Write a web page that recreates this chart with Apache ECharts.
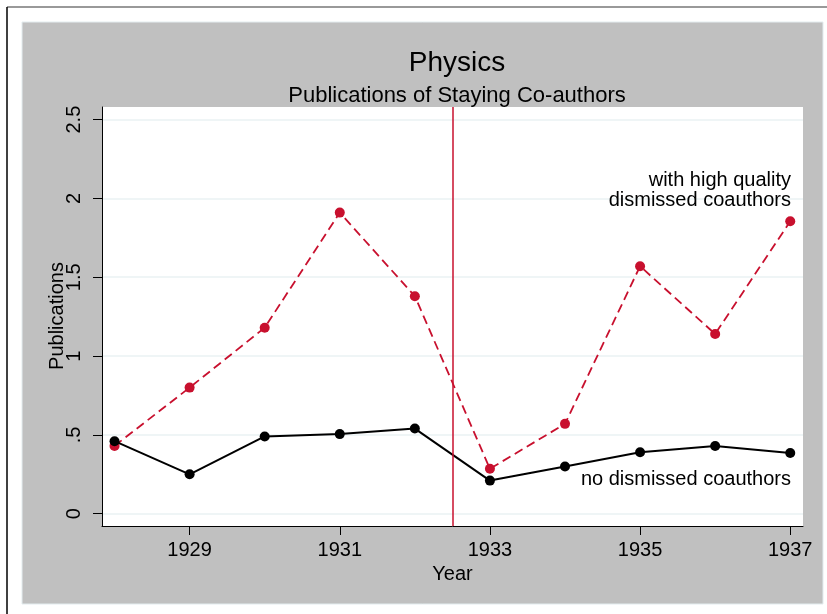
<!DOCTYPE html>
<html>
<head>
<meta charset="utf-8">
<script src="https://cdn.jsdelivr.net/npm/echarts@6/dist/echarts.min.js"></script>
<style>
  html, body { margin: 0; padding: 0; background: #fff; }
  #chart { width: 827px; height: 614px; }
</style>
</head>
<body>
<div id="chart"></div>
<script>
// data
const years = [1928, 1929, 1930, 1931, 1932, 1933, 1934, 1935, 1936, 1937]
const highQuality = [0.43, 0.80, 1.18, 1.91, 1.38, 0.285, 0.57, 1.57, 1.14, 1.855]
const noDismissed = [0.46, 0.25, 0.49, 0.505, 0.54, 0.21, 0.30, 0.39, 0.43, 0.385]
const xTicks = [1929, 1931, 1933, 1935, 1937]
const yTicks = [0, 0.5, 1, 1.5, 2, 2.5]
const cutoffYear = 1932.5

const red = '#c8102e'
const font = "'Liberation Sans', Arial, sans-serif"

const chart = echarts.init(document.getElementById('chart'), null, { renderer: 'canvas' })

const fmtY = v => {
  const s = String(v)
  return s.startsWith('0.') ? s.slice(1) : s
}

const option = {
  backgroundColor: '#fff',
  animation: false,
  textStyle: { fontFamily: font },
  title: [{
    text: 'Physics',
    left: 452,
    top: 44,
    textAlign: 'center',
    textStyle: { fontSize: 28, fontWeight: 'normal', color: '#000', fontFamily: font }
  }, {
    text: 'Publications of Staying Co-authors',
    left: 452,
    top: 80,
    textAlign: 'center',
    textStyle: { fontSize: 22, fontWeight: 'normal', color: '#000', fontFamily: font }
  }],
  graphic: [
    { type: 'rect', z: -100, shape: { x: 22, y: 22, width: 801, height: 582 },
      style: { fill: '#c0c0c0', stroke: '#e3ecef', lineWidth: 1 } },
    { type: 'line', z: -90, shape: { x1: 7, y1: 7, x2: 827, y2: 7 },
      style: { stroke: '#777', lineWidth: 1.5 } },
    { type: 'line', z: -90, shape: { x1: 7, y1: 7, x2: 7, y2: 614 },
      style: { stroke: '#000', lineWidth: 1.5 } },
    // y axis title, placed by hand so it sits as close to the labels as in the original
    { type: 'text', x: 57, y: 316, rotation: Math.PI / 2, z: 10,
      style: { text: 'Publications', fontSize: 20, fontFamily: font, fill: '#000',
        align: 'center', verticalAlign: 'middle' } },
    { type: 'text', x: 791, y: 180, z: 10,
      style: { text: 'with high quality', fontSize: 20, fontFamily: font, fill: '#000',
        align: 'right', verticalAlign: 'middle' } },
    { type: 'text', x: 791, y: 200, z: 10,
      style: { text: 'dismissed coauthors', fontSize: 20, fontFamily: font, fill: '#000',
        align: 'right', verticalAlign: 'middle' } },
    { type: 'text', x: 791, y: 479, z: 10,
      style: { text: 'no dismissed coauthors', fontSize: 20, fontFamily: font, fill: '#000',
        align: 'right', verticalAlign: 'middle' } }
  ],
  grid: {
    left: 102, right: 24, top: 107, bottom: 88,
    show: true, backgroundColor: '#fff', borderWidth: 0
  },
  xAxis: {
    type: 'value',
    min: 1927.833, max: 1937.17,
    name: 'Year',
    nameLocation: 'middle',
    nameGap: 36,
    nameTextStyle: { fontSize: 20, color: '#000', fontFamily: font },
    axisLine: { show: true, onZero: false, lineStyle: { color: '#000', width: 1 } },
    axisTick: { show: true, length: 9, customValues: xTicks, lineStyle: { color: '#000' } },
    axisLabel: { customValues: xTicks, fontSize: 20, color: '#000', margin: 14,
      formatter: v => String(v) },
    splitLine: { show: false }
  },
  yAxis: {
    type: 'value',
    min: -0.078, max: 2.58,
    axisLine: { show: true, onZero: false, lineStyle: { color: '#000', width: 1 } },
    axisTick: { show: true, length: 9, customValues: yTicks, lineStyle: { color: '#000' } },
    axisLabel: { customValues: yTicks, rotate: 90, fontSize: 20, color: '#000', margin: 18,
      formatter: fmtY },
    splitLine: { show: true, lineStyle: { color: '#eaf2f3', width: 1.5 } }
  },
  series: [{
    name: 'with high quality dismissed coauthors',
    type: 'line',
    data: years.map((y, i) => [y, highQuality[i]]),
    symbol: 'circle',
    symbolSize: 10,
    itemStyle: { color: red },
    lineStyle: { color: red, width: 1.8, type: [9, 5] },
    z: 3,
    markLine: {
      silent: true,
      symbol: 'none',
      label: { show: false },
      lineStyle: { color: red, width: 1.5, type: 'solid' },
      data: [{ xAxis: cutoffYear }]
    }
  }, {
    name: 'no dismissed coauthors',
    type: 'line',
    data: years.map((y, i) => [y, noDismissed[i]]),
    symbol: 'circle',
    symbolSize: 10,
    itemStyle: { color: '#000' },
    lineStyle: { color: '#000', width: 2 },
    z: 4
  }]
}

chart.setOption(option)
</script>
</body>
</html>
